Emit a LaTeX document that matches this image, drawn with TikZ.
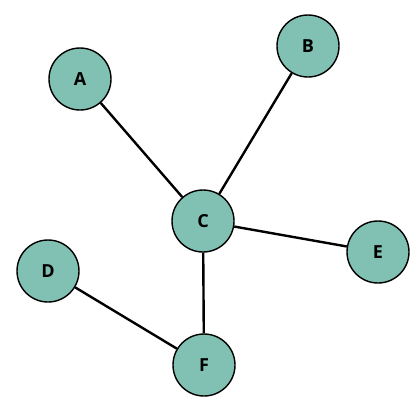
\documentclass[tikz,border=0pt]{standalone}
\usepackage{fontspec}
\setmainfont{Open Sans}
\usetikzlibrary{positioning}
\definecolor{nodeteal}{HTML}{80C1B3}

\begin{document}
\begin{tikzpicture}[x=1pt,y=-1pt,
  vertex/.style={draw,circle,fill=nodeteal,line width=1.4pt,minimum size=62pt,inner sep=0pt,font=\fontsize{18}{18}\selectfont\bfseries},
  link/.style={line width=2.4pt}]
\useasboundingbox (0,0) rectangle (418,405);
\node[vertex](A) at (80,79){A};
\node[vertex](B) at (308,46){B};
\node[vertex](C) at (203,221){C};
\node[vertex](D) at (48,271){D};
\node[vertex](E) at (378,252){E};
\node[vertex](F) at (204,365){F};
\draw[link] (A) -- (C);
\draw[link] (B) -- (C);
\draw[link] (C) -- (E);
\draw[link] (C) -- (F);
\draw[link] (D) -- (F);
\end{tikzpicture}
\end{document}
